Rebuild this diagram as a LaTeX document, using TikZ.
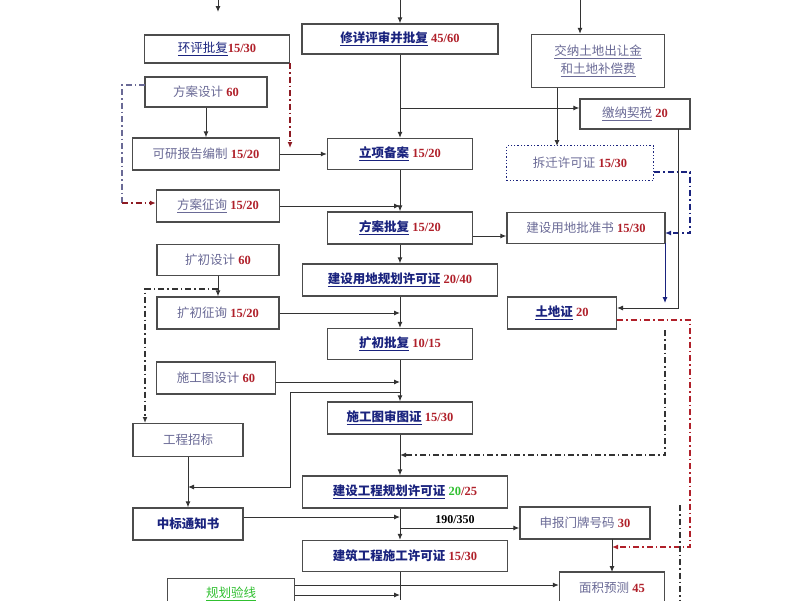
\documentclass[tikz,border=0pt]{standalone}
\usepackage{fontspec}
\setmainfont{Liberation Serif}
\newfontfamily\cjk{Noto Sans CJK SC}
\usetikzlibrary{arrows.meta}
\definecolor{tb}{HTML}{1A237E}
\definecolor{tr}{HTML}{B0202A}
\definecolor{tg}{HTML}{6A6A96}
\definecolor{tgr}{HTML}{30C030}
\newcommand{\mlab}[2]{{\cjk\bfseries\color{tb}\underline{#1}}\ {\bfseries\color{tr}#2}}
\newcommand{\slab}[2]{{\cjk\color{tg}#1}\ {\bfseries\color{tr}#2}}
\begin{document}
\begin{tikzpicture}[x=1pt,y=-1pt,
 box/.style={draw=black!70,line width=1.3pt,fill=white,inner sep=0pt,font=\fontsize{12.5}{15}\selectfont,align=center},
 ar/.style={-{Latex[length=6pt,width=5pt]},line width=1pt,draw=black!80},
 ln/.style={line width=1pt,draw=black!80},
 dd/.style={line width=1.2pt,dash pattern=on 6pt off 3pt on 1.5pt off 3pt},
 tip/.style={-{Latex[length=6pt,width=5pt]}}]
\useasboundingbox (0,0) rectangle (800,600);
\node[box,minimum width=196,minimum height=30] (xx) at (400,39) {\mlab{修详评审并批复}{45/60}};
\node[box,minimum width=133,minimum height=53] (jn) at (598,61) {{\cjk\color{tg}\underline{交纳土地出让金}}\\[3pt]{\cjk\color{tg}\underline{和土地补偿费}}};
\node[box,minimum width=145,minimum height=28] (hp) at (217,49) {{\cjk\itshape\color{tb}\underline{环评批复}}{\bfseries\color{tr}15/30}};
\node[box,minimum width=122,minimum height=30] (fasj) at (206,92) {\slab{方案设计}{60}};
\node[box,minimum width=147,minimum height=32] (ky) at (206,154) {\slab{可研报告编制}{15/20}};
\node[box,minimum width=145,minimum height=31] (lx) at (400,154) {\mlab{立项备案}{15/20}};
\node[box,minimum width=110,minimum height=30] (qs) at (635,114) {{\cjk\color{tg}\underline{缴纳契税}}\ {\bfseries\color{tr}20}};
\node[box,draw=tb,dotted,line width=1.6pt,minimum width=147,minimum height=35] (cq) at (580,163) {\slab{拆迁许可证}{15/30}};
\node[box,minimum width=123,minimum height=32] (fazx) at (218,206) {{\cjk\color{tg}\underline{方案征询}}\ {\bfseries\color{tr}15/20}};
\node[box,minimum width=145,minimum height=32] (fapf) at (400,228) {\mlab{方案批复}{15/20}};
\node[box,minimum width=158,minimum height=31] (pzs) at (586,228) {\slab{建设用地批准书}{15/30}};
\node[box,minimum width=122,minimum height=31] (kcsj) at (218,260) {\slab{扩初设计}{60}};
\node[box,minimum width=195,minimum height=32] (ghx) at (400,280) {\mlab{建设用地规划许可证}{20/40}};
\node[box,minimum width=122,minimum height=32] (kczx) at (218,313) {\slab{扩初征询}{15/20}};
\node[box,minimum width=109,minimum height=32] (tdz) at (562,313) {\mlab{土地证}{20}};
\node[box,minimum width=145,minimum height=31] (kcpf) at (400,344) {\mlab{扩初批复}{10/15}};
\node[box,minimum width=119,minimum height=32] (sgsj) at (216,378) {\slab{施工图设计}{60}};
\node[box,minimum width=145,minimum height=32] (sgt) at (400,418) {\mlab{施工图审图证}{15/30}};
\node[box,minimum width=110,minimum height=33] (zb) at (188,440) {{\cjk\color{tg}工程招标}};
\node[box,minimum width=205,minimum height=32] (gcgh) at (405,492) {{\cjk\bfseries\color{tb}\underline{建设工程规划许可证}}\ {\bfseries\color{tgr}20}{\bfseries\color{tr}/25}};
\node[box,minimum width=110,minimum height=32] (zbtz) at (188,524) {{\cjk\bfseries\color{tb}中标通知书}};
\node[box,minimum width=130,minimum height=32] (mp) at (585,523) {\slab{申报门牌号码}{30}};
\node[box,minimum width=205,minimum height=31] (sgxk) at (405,556) {{\cjk\bfseries\color{tb}建筑工程施工许可证}\ {\bfseries\color{tr}15/30}};
\node[box,minimum width=105,minimum height=32] (mj) at (612,588) {\slab{面积预测}{45}};
\node[box,minimum width=127,minimum height=30,anchor=north] (yx) at (231,578) {{\cjk\itshape\color{tgr}\underline{规划验线}}};
\node[font=\bfseries\fontsize{12}{14}\selectfont] (num) at (455,520) {190/350};
\coordinate (t1) at (218,0); \coordinate (t1e) at (218,12);
\draw[ar] (t1) -- (t1e);
\coordinate (t2) at (400,0);
\draw[ar] (t2) -- (xx.north);
\coordinate (t3) at (580,0);
\draw[ar] (t3) -- (t3|-jn.north);
% spine
\draw[ar] (xx) -- (lx);
\coordinate (b1) at (400,108);
\draw[ar] (b1) -- (b1-|qs.west);
\draw[ar] (557,88) -- (557,146);
\draw[ar] (lx) -- (fapf);
\draw[ar] (fapf) -- (ghx);
\draw[ar] (ghx) -- (kcpf);
\draw[ar] (kcpf) -- (sgt);
\draw[ar] (sgt.south) -- (sgt.south|-gcgh.north);
\draw[ar] (gcgh.south-|sgt.south) -- (sgt.south|-sgxk.north);
\coordinate (bot) at (400,600);
\draw[ln] (sgxk.south-|bot) -- (bot);
% left side
\draw[ar] (fasj) -- (fasj|-ky.north);
\draw[ar] (ky) -- (lx);
\draw[dd,draw=tr!80!black,tip] (290,63) -- (290,148);
\draw[dd,draw=tg] (145,85) -- (122,85) -- (122,203);
\draw[dd,draw=tr!80!black,tip] (122,203) -- (fazx.west|-122,203);
\draw[ar] (fazx) -- (400,206);
\draw[ar] (kcsj) -- (kcsj|-kczx.north);
\draw[dd,draw=black!80,tip] (218,289) -- (145,289) -- (145,423);
\draw[ar] (kczx) -- (400,313);
\draw[ar] (sgsj.east|-0,382) -- (400,382);
\draw[ar] (400,392) -- (290,392) -- (290,487) -- (188,487);
\draw[ar] (zb) -- (zbtz);
\draw[ar] (zbtz.east|-0,517) -- (400,517);
\draw[ar] (400,528) -- (mp.west|-400,528);
\draw[ar] (yx.east|-0,585) -- (mj.west|-0,585);
\draw[ar] (yx.east|-0,595) -- (400,595);
% right side
\draw[ar] (fapf.east|-0,236) -- (pzs.west|-0,236);
\draw[dd,draw=tb,tip] (654,172) -- (690,172) -- (690,233) -- (665,233);
\draw[-{Latex[length=6pt,width=5pt]},line width=1pt,draw=tb] (665,243) -- (665,303);
\draw[ar] (678,129) -- (678,308) -- (617,308);
\draw[dd,draw=black!80,tip] (665,330) -- (665,455) -- (400,455);
\draw[dd,draw=tr,tip] (617,320) -- (690,320) -- (690,547) -- (612,547);
\draw[ar] (612,539) -- (612,572);
\draw[dd,draw=black!80] (680,505) -- (680,600);
\end{tikzpicture}
\end{document}
